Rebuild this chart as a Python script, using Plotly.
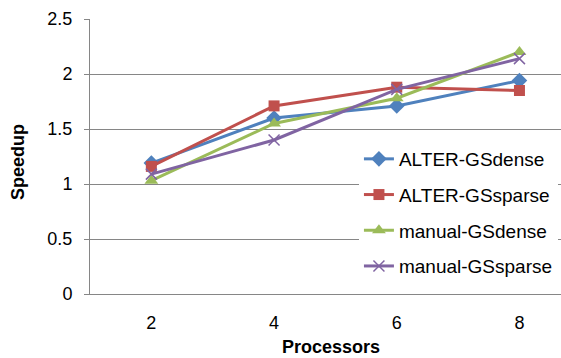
import plotly.graph_objects as go

processors = [2, 4, 6, 8]
alter_dense = [1.19, 1.60, 1.71, 1.94]
alter_sparse = [1.16, 1.71, 1.88, 1.85]
manual_dense = [1.03, 1.55, 1.78, 2.20]
manual_sparse = [1.09, 1.40, 1.86, 2.14]

series = [
    ("ALTER-GSdense", alter_dense, "#4F81BD", "diamond", 12),
    ("ALTER-GSsparse", alter_sparse, "#C0504D", "square", 11),
    ("manual-GSdense", manual_dense, "#9BBB59", "triangle-up", 12),
    ("manual-GSsparse", manual_sparse, "#8064A2", "x-thin", 11),
]

FONT = "Liberation Sans, Arial, sans-serif"
GRID = "#868686"

fig = go.Figure()
for i, (name, vals, color, sym, sz) in enumerate(series):
    marker = dict(symbol=sym, size=sz, color=color)
    if sym == "x-thin":
        marker["line"] = dict(color=color, width=1.5)
    fig.add_trace(go.Scatter(
        x=processors, y=vals, name=name, mode="lines+markers",
        line=dict(color=color, width=3), marker=marker,
        legendgroup=f"g{i}",
    ))

fig.update_layout(
    width=561, height=358,
    margin=dict(l=90, r=0, t=19, b=64),
    paper_bgcolor="white", plot_bgcolor="white",
    font=dict(family=FONT, size=18, color="black"),
    showlegend=True,
    legend=dict(
        x=0.571, y=0.56, xanchor="left", yanchor="top",
        bgcolor="white", borderwidth=0,
        font=dict(family=FONT, size=19, color="black"),
        tracegroupgap=8,
    ),
    xaxis=dict(
        range=[1, 8.677], tickvals=processors, ticktext=[str(p) for p in processors],
        showgrid=False, zeroline=False, showline=True, linecolor=GRID, linewidth=1,
        ticks="", ticklabelstandoff=12,
        tickfont=dict(family=FONT, size=18, color="black"),
    ),
    yaxis=dict(
        range=[0, 2.5], tickvals=[0, 0.5, 1, 1.5, 2, 2.5],
        ticktext=["0", "0.5", "1", "1.5", "2", "2.5"],
        showgrid=True, gridcolor=GRID, gridwidth=1, zeroline=False,
        showline=True, linecolor=GRID, linewidth=1,
        ticks="outside", ticklen=5, tickcolor=GRID, ticklabelstandoff=8,
        tickfont=dict(family=FONT, size=18, color="black"),
    ),
)

fig.add_annotation(text="<b>Speedup</b>", xref="paper", yref="paper",
                   x=(18 - 90) / 471, y=(294 - 162) / 275, xanchor="center", yanchor="middle",
                   textangle=-90, showarrow=False,
                   font=dict(family=FONT, size=18, color="black"))
fig.add_annotation(text="<b>Processors</b>", xref="paper", yref="paper",
                   x=(331 - 90) / 471, y=(294 - 347) / 275, xanchor="center", yanchor="middle",
                   showarrow=False,
                   font=dict(family=FONT, size=18, color="black"))

fig.write_html("out.html")
